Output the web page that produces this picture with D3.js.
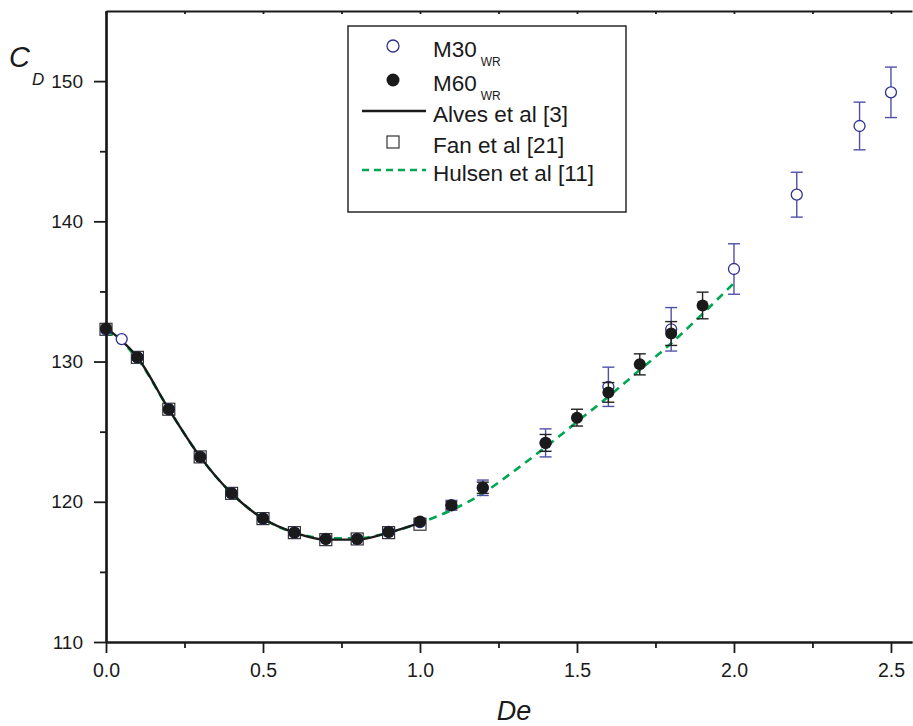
<!DOCTYPE html>
<html>
<head>
<meta charset="utf-8">
<script src="https://cdn.jsdelivr.net/npm/d3@7"></script>
<style>
  body { margin: 0; background: #fff; }
  text { font-family: "Liberation Sans", Arial, sans-serif; fill: #1a1a1a; }
</style>
</head>
<body>
<script>
// --- data ---
// M30 WR (open circles) with error half-widths
var m30De  = [0, 0.05, 0.1, 0.2, 0.3, 0.4, 0.5, 0.6, 0.7, 0.8, 0.9, 1.0, 1.1, 1.2, 1.4, 1.6, 1.8, 2.0, 2.2, 2.4, 2.5];
var m30Cd  = [132.3, 131.6, 130.3, 126.6, 123.2, 120.6, 118.8, 117.8, 117.35, 117.35, 117.85, 118.55, 119.75, 121.0, 124.2, 128.2, 132.3, 136.6, 141.9, 146.8, 149.2];
var m30Err = [0, 0, 0, 0, 0, 0, 0, 0, 0, 0, 0, 0, 0.35, 0.55, 1.0, 1.4, 1.55, 1.8, 1.6, 1.7, 1.8];

// M60 WR (filled circles)
var m60De  = [0, 0.1, 0.2, 0.3, 0.4, 0.5, 0.6, 0.7, 0.8, 0.9, 1.0, 1.1, 1.2, 1.4, 1.5, 1.6, 1.7, 1.8, 1.9];
var m60Cd  = [132.35, 130.3, 126.6, 123.2, 120.6, 118.8, 117.8, 117.35, 117.35, 117.85, 118.6, 119.75, 121.0, 124.2, 126.0, 127.8, 129.8, 132.0, 134.0];
var m60Err = [0, 0, 0, 0, 0, 0, 0, 0, 0, 0, 0, 0.25, 0.4, 0.6, 0.6, 0.7, 0.75, 0.85, 0.95];

// Alves et al [3] (solid line)
var alvesDe = [0, 0.1, 0.2, 0.3, 0.4, 0.5, 0.6, 0.7, 0.8, 0.9, 1.0];
var alvesCd = [132.4, 130.3, 126.6, 123.2, 120.6, 118.8, 117.8, 117.3, 117.3, 117.8, 118.5];

// Fan et al [21] (squares)
var fanDe = [0, 0.1, 0.2, 0.3, 0.4, 0.5, 0.6, 0.7, 0.8, 0.9, 1.0];
var fanCd = [132.3, 130.3, 126.6, 123.2, 120.6, 118.8, 117.8, 117.3, 117.35, 117.8, 118.4];

// Hulsen et al [11] (green dashed)
var hulsenDe = [0, 0.05, 0.1, 0.2, 0.3, 0.4, 0.5, 0.6, 0.7, 0.8, 0.9, 1.0, 1.1, 1.2, 1.3, 1.4, 1.5, 1.6, 1.7, 1.8, 1.9, 2.0];
var hulsenCd = [132.2, 131.4, 130.2, 126.6, 123.2, 120.6, 118.8, 117.8, 117.4, 117.4, 117.8, 118.5, 119.4, 120.6, 122.2, 123.9, 125.7, 127.5, 129.4, 131.3, 133.4, 135.6];

var xMajor = [0, 0.5, 1.0, 1.5, 2.0, 2.5];
var xMinor = [0.25, 0.75, 1.25, 1.75, 2.25];
var yMajor = [110, 120, 130, 140, 150];
var yMinor = [115, 125, 135, 145];

var legendItems = ["M30", "M60", "Alves et al [3]", "Fan et al [21]", "Hulsen et al [11]"];

// --- layout ---
var W = 913, H = 726;
var plotL = 106, plotR = 912, plotT = 11, plotB = 642;

var svg = d3.select("body").append("svg")
    .attr("width", W)
    .attr("height", H);

var x = d3.scaleLinear().domain([0, 2.567]).range([plotL, plotR]);
var y = d3.scaleLinear().domain([110, 155]).range([plotB, plotT]);

var blue = "#2e3192", blueBar = "#5050a8", green = "#00a650", ink = "#1a1a1a";

function zip(a, b) { return a.map(function(v, i) { return [v, b[i]]; }); }

// Fan squares
svg.append("g").selectAll("rect")
    .data(zip(fanDe, fanCd))
  .enter().append("rect")
    .attr("x", function(d) { return x(d[0]) - 6; })
    .attr("y", function(d) { return y(d[1]) - 6; })
    .attr("width", 12).attr("height", 12)
    .attr("fill", "none")
    .attr("stroke", "#333")
    .attr("stroke-width", 1.2);

// Hulsen dashed
svg.append("path")
    .datum(zip(hulsenDe, hulsenCd))
    .attr("fill", "none")
    .attr("stroke", green)
    .attr("stroke-width", 2.6)
    .attr("stroke-dasharray", "8,6")
    .attr("d", d3.line().x(function(d) { return x(d[0]); }).y(function(d) { return y(d[1]); }).curve(d3.curveMonotoneX));

// Alves solid
svg.append("path")
    .datum(zip(alvesDe, alvesCd))
    .attr("fill", "none")
    .attr("stroke", ink)
    .attr("stroke-width", 2.4)
    .attr("d", d3.line().x(function(d) { return x(d[0]); }).y(function(d) { return y(d[1]); }).curve(d3.curveMonotoneX));

// error bars
function errBars(de, cd, err, color) {
  var data = de.map(function(v, i) { return {x: v, y: cd[i], e: err[i]}; })
    .filter(function(d) { return d.e > 0; });
  var g = svg.append("g").attr("stroke", color).attr("stroke-width", 1.4).attr("fill", "none");
  g.selectAll(".v").data(data).enter().append("line")
    .attr("x1", function(d) { return x(d.x); }).attr("x2", function(d) { return x(d.x); })
    .attr("y1", function(d) { return y(d.y + d.e); }).attr("y2", function(d) { return y(d.y - d.e); });
  g.selectAll(".t").data(data).enter().append("line")
    .attr("x1", function(d) { return x(d.x) - 6; }).attr("x2", function(d) { return x(d.x) + 6; })
    .attr("y1", function(d) { return y(d.y + d.e); }).attr("y2", function(d) { return y(d.y + d.e); });
  g.selectAll(".b").data(data).enter().append("line")
    .attr("x1", function(d) { return x(d.x) - 6; }).attr("x2", function(d) { return x(d.x) + 6; })
    .attr("y1", function(d) { return y(d.y - d.e); }).attr("y2", function(d) { return y(d.y - d.e); });
}

errBars(m30De, m30Cd, m30Err, blueBar);

svg.append("g").selectAll("circle")
    .data(zip(m30De, m30Cd))
  .enter().append("circle")
    .attr("cx", function(d) { return x(d[0]); })
    .attr("cy", function(d) { return y(d[1]); })
    .attr("r", 5.5)
    .attr("fill", "#fff")
    .attr("stroke", blue)
    .attr("stroke-width", 1.3);

errBars(m60De, m60Cd, m60Err, "#222");

svg.append("g").selectAll("circle")
    .data(zip(m60De, m60Cd))
  .enter().append("circle")
    .attr("cx", function(d) { return x(d[0]); })
    .attr("cy", function(d) { return y(d[1]); })
    .attr("r", 6)
    .attr("fill", ink);

// --- axes ---
var xAxis = svg.append("g")
    .attr("transform", "translate(0," + plotB + ")")
    .call(d3.axisBottom(x).tickValues(xMajor).tickFormat(d3.format(".1f")).tickSize(11).tickSizeOuter(0).tickPadding(10));
svg.append("g")
    .attr("transform", "translate(0," + plotB + ")")
    .call(d3.axisBottom(x).tickValues(xMinor).tickFormat("").tickSize(6).tickSizeOuter(0));

var yAxis = svg.append("g")
    .attr("transform", "translate(" + plotL + ",0)")
    .call(d3.axisLeft(y).tickValues(yMajor).tickSize(12).tickSizeOuter(0).tickPadding(11));
svg.append("g")
    .attr("transform", "translate(" + plotL + ",0)")
    .call(d3.axisLeft(y).tickValues(yMinor).tickFormat("").tickSize(6).tickSizeOuter(0));

// top frame with small inward ticks
svg.append("g")
    .attr("transform", "translate(0," + plotT + ")")
    .call(d3.axisTop(x).tickValues(xMajor.concat(xMinor)).tickFormat("").tickSize(-3).tickSizeOuter(0));

svg.selectAll(".domain").attr("stroke", ink).attr("stroke-width", 2.2);
svg.selectAll(".tick line").attr("stroke", ink).attr("stroke-width", 1.8);
yAxis.selectAll(".tick text").style("font-size", "19px").attr("fill", ink);
xAxis.selectAll(".tick text").style("font-size", "19.5px").attr("fill", ink);

// axis titles
svg.append("text")
    .attr("x", 514).attr("y", 720)
    .attr("text-anchor", "middle")
    .style("font-size", "27px").style("font-style", "italic")
    .text("De");

svg.append("text").attr("x", 9).attr("y", 67)
    .style("font-size", "29px").style("font-style", "italic")
    .text("C");
svg.append("text").attr("x", 32).attr("y", 85)
    .style("font-size", "17px").style("font-style", "italic")
    .text("D");

// --- legend ---
var lg = svg.append("g");
lg.append("rect")
    .attr("x", 348).attr("y", 26).attr("width", 278).attr("height", 186)
    .attr("fill", "#fff").attr("stroke", ink).attr("stroke-width", 1.4);

var rowY = [46, 80, 111, 142, 170];
var symX = 393, txtX = 433;

lg.append("circle").attr("cx", symX).attr("cy", rowY[0]).attr("r", 6)
    .attr("fill", "#fff").attr("stroke", blue).attr("stroke-width", 1.3);
lg.append("circle").attr("cx", symX).attr("cy", rowY[1]).attr("r", 6.5).attr("fill", ink);
lg.append("line").attr("x1", 362).attr("x2", 426).attr("y1", rowY[2]).attr("y2", rowY[2])
    .attr("stroke", ink).attr("stroke-width", 2.4);
lg.append("rect").attr("x", symX - 6).attr("y", rowY[3] - 6).attr("width", 12).attr("height", 12)
    .attr("fill", "none").attr("stroke", "#333").attr("stroke-width", 1.2);
lg.append("line").attr("x1", 362).attr("x2", 426).attr("y1", rowY[4]).attr("y2", rowY[4])
    .attr("stroke", green).attr("stroke-width", 2.4).attr("stroke-dasharray", "7,5");

legendItems.forEach(function(t, i) {
  var tx = lg.append("text").attr("x", txtX).attr("y", rowY[i] + 10.5).style("font-size", "22.5px");
  tx.append("tspan").text(t);
  if (i < 2) {
    tx.append("tspan").attr("dx", 4).attr("dy", 9).style("font-size", "12px").text("WR");
  }
});
</script>
</body>
</html>
